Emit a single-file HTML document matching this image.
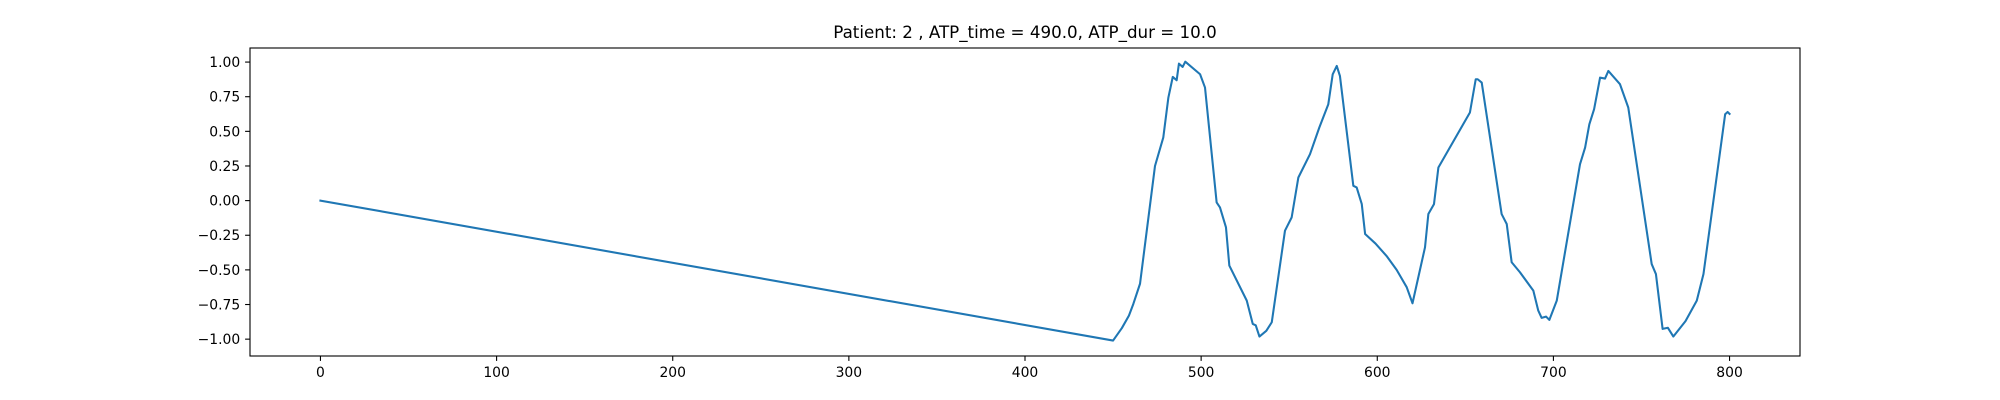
<!DOCTYPE html>
<html><head><meta charset="utf-8"><style>
html,body{margin:0;padding:0;background:#fff;}
svg{display:block;font-family:"DejaVu Sans","Liberation Sans",sans-serif;}
</style></head><body>
<svg id="chart" width="2000" height="400" xmlns="http://www.w3.org/2000/svg">
<rect width="2000" height="400" fill="#fff"/>
<text x="1025" y="38" text-anchor="middle" font-size="16.7" fill="#000">Patient: 2 , ATP_time = 490.0, ATP_dur = 10.0</text>
<g id="ticks"></g>
<path id="series" fill="none" stroke="#1f77b4" stroke-width="2.08" stroke-linejoin="round" stroke-linecap="square"/>
<rect x="250" y="48" width="1550" height="308" fill="none" stroke="#000" stroke-width="1.1"/>
</svg>
<script>
const xValues = [0,450,455,459,461.5,465.3,473.8,478.5,481.4,483.9,486.1,487.4,489.5,491,499.4,502.2,508.8,510.7,514.1,516,525.9,529.3,531,533.1,537,540.1,547.6,551.4,555.2,561.8,567.1,572.2,574.7,577,578.8,586.4,588.3,591.2,593.1,599,605.3,611,616.7,620,627.1,629,632.2,634.7,652.6,655.9,657,659.3,670.6,673.5,676.3,681,688.6,691.4,693.3,695.8,697.7,701.9,715.1,718,720.4,723.1,726.5,729.3,731.2,737.8,742.5,755.8,758.2,762,765,768.1,775,781.4,785.2,797.5,798.9,800];
const yValues = [0,-1.01,-0.92,-0.83,-0.746,-0.60,0.25,0.455,0.744,0.893,0.869,0.989,0.965,1.003,0.912,0.816,-0.013,-0.049,-0.193,-0.469,-0.722,-0.89,-0.9,-0.981,-0.94,-0.878,-0.217,-0.121,0.167,0.335,0.528,0.696,0.912,0.972,0.9,0.107,0.095,-0.025,-0.241,-0.31,-0.40,-0.50,-0.625,-0.741,-0.337,-0.097,-0.025,0.239,0.636,0.876,0.876,0.852,-0.097,-0.169,-0.445,-0.517,-0.65,-0.794,-0.846,-0.837,-0.861,-0.722,0.263,0.383,0.551,0.66,0.888,0.881,0.936,0.84,0.672,-0.458,-0.53,-0.926,-0.918,-0.981,-0.87,-0.722,-0.53,0.623,0.64,0.626];
const xTicks = [0,100,200,300,400,500,600,700,800];
const yTicks = [-1.00,-0.75,-0.50,-0.25,0.00,0.25,0.50,0.75,1.00];

const X0=250,X1=1800,Y0=48,Y1=356;
const xmin=-40,xmax=840,ymin=-1.1216,ymax=1.1016;
function sx(d){return X0+(d-xmin)/(xmax-xmin)*(X1-X0);}
function sy(v){return Y1-(v-ymin)/(ymax-ymin)*(Y1-Y0);}
const NS="http://www.w3.org/2000/svg";
let d="";
for(let i=0;i<xValues.length;i++){d+=(i?"L":"M")+sx(xValues[i]).toFixed(2)+","+sy(yValues[i]).toFixed(2);}
document.getElementById('series').setAttribute('d',d);
const g=document.getElementById('ticks');
xTicks.forEach(t=>{
  const x=sx(t);
  const l=document.createElementNS(NS,'line');
  l.setAttribute('x1',x);l.setAttribute('x2',x);l.setAttribute('y1',Y1);l.setAttribute('y2',Y1+4.9);
  l.setAttribute('stroke','#000');l.setAttribute('stroke-width','1.1');
  
  
  g.appendChild(l);
  const tx=document.createElementNS(NS,'text');
  tx.setAttribute('x',x);tx.setAttribute('y',Y1+4.9+4.9+11);
  tx.setAttribute('text-anchor','middle');tx.setAttribute('font-size','13.9');
  tx.textContent=String(t);
  
  
  g.appendChild(tx);
});
yTicks.forEach(t=>{
  const y=sy(t);
  const l=document.createElementNS(NS,'line');
  l.setAttribute('x1',X0-4.9);l.setAttribute('x2',X0);l.setAttribute('y1',y);l.setAttribute('y2',y);
  l.setAttribute('stroke','#000');l.setAttribute('stroke-width','1.1');
  
  
  g.appendChild(l);
  const tx=document.createElementNS(NS,'text');
  tx.setAttribute('x',X0-4.9-4.9);tx.setAttribute('y',y+5);
  tx.setAttribute('text-anchor','end');tx.setAttribute('font-size','13.9');
  tx.textContent=(t<0?"\u2212":"")+Math.abs(t).toFixed(2);
  
  
  g.appendChild(tx);
});
</script>
</body></html>
